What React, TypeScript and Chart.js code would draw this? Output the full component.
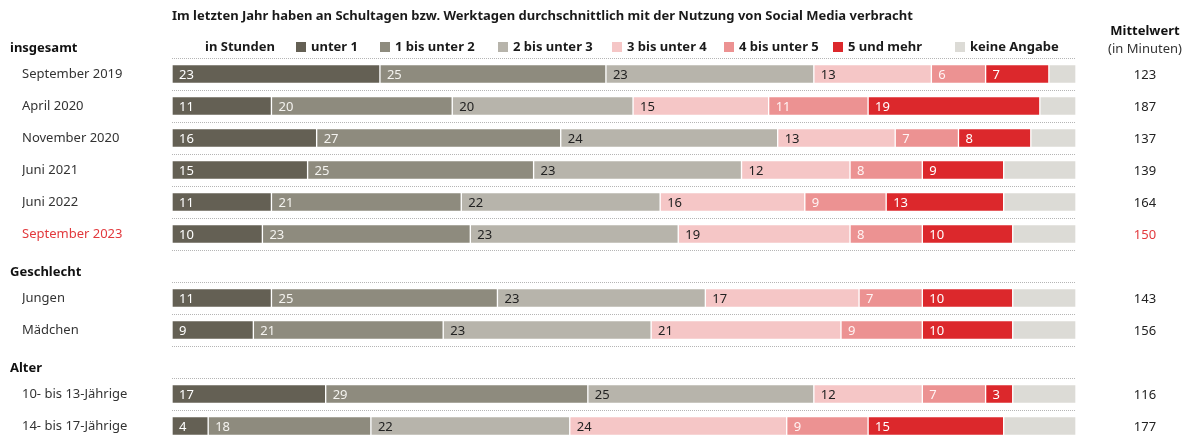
import React, { useEffect, useRef } from 'react';
import { Chart, registerables } from 'chart.js';

Chart.register(...registerables);

const titleText = 'Im letzten Jahr haben an Schultagen bzw. Werktagen durchschnittlich mit der Nutzung von Social Media verbracht';
const legendTitle = 'in Stunden';
const rowLabels = ['September 2019', 'April 2020', 'November 2020', 'Juni 2021', 'Juni 2022', 'September 2023', '', 'Jungen', 'Mädchen', '', '10- bis 13-Jährige', '14- bis 17-Jährige'];
const groupHeaders = ['insgesamt', 'Geschlecht', 'Alter'];
const groupHeaderSlots = [-1, 6, 9];
const highlightRow = 5;
const seriesNames = ['unter 1', '1 bis unter 2', '2 bis unter 3', '3 bis unter 4', '4 bis unter 5', '5 und mehr', 'keine Angabe'];
const unter1 = [23, 11, 16, 15, 11, 10, null, 11, 9, null, 17, 4];
const bis2 = [25, 20, 27, 25, 21, 23, null, 25, 21, null, 29, 18];
const bis3 = [23, 20, 24, 23, 22, 23, null, 23, 23, null, 25, 22];
const bis4 = [13, 15, 13, 12, 16, 19, null, 17, 21, null, 12, 24];
const bis5 = [6, 11, 7, 8, 9, 8, null, 7, 9, null, 7, 9];
const undMehr = [7, 19, 8, 9, 13, 10, null, 10, 10, null, 3, 15];
const keineAngabe = [3, 4, 5, 8, 8, 7, null, 7, 7, null, 7, 8];
const mittelwert = [123, 187, 137, 139, 164, 150, null, 143, 156, null, 116, 177];
const mittelwertTitle = 'Mittelwert';
const mittelwertSub = '(in Minuten)';

const seriesValues = [unter1, bis2, bis3, bis4, bis5, undMehr, keineAngabe];
const seriesColors = ['#646054', '#8e8b7e', '#b7b4ab', '#f5c6c6', '#ec9292', '#dc282c', '#dcdbd6'];
const labelColors = ['#ffffff', '#f4f3ef', '#222222', '#222222', '#fff4f4', '#ffffff', null];
const legendSquareX = [296, 380, 498, 612, 724, 833, 955];

const FONT = '"Noto Sans", sans-serif';
const RED = '#e2393d';

const decorPlugin = {
  id: 'decor',
  afterDraw(chart: any) {
    const ctx = chart.ctx as CanvasRenderingContext2D;
    const y = chart.scales.y;
    ctx.save();
    // title
    ctx.fillStyle = '#1a1a1a';
    ctx.font = `bold 13px ${FONT}`;
    ctx.textBaseline = 'middle';
    ctx.textAlign = 'left';
    ctx.fillText(titleText, 172, 16);
    // legend
    ctx.fillText(legendTitle, 205, 47);
    seriesNames.forEach((n, i) => {
      const sx = legendSquareX[i];
      ctx.fillStyle = seriesColors[i];
      ctx.fillRect(sx, 42, 10, 10);
      ctx.fillStyle = '#1a1a1a';
      ctx.fillText(n, sx + 15, 47);
    });
    // group headers
    groupHeaders.forEach((h, i) => {
      ctx.fillStyle = '#111111';
      ctx.font = `bold 13px ${FONT}`;
      ctx.textAlign = 'left';
      ctx.fillText(h, 10, y.getPixelForValue(groupHeaderSlots[i]) + 6);
    });
    // Mittelwert header
    ctx.textAlign = 'center';
    ctx.font = `bold 13px ${FONT}`;
    ctx.fillStyle = '#111111';
    ctx.fillText(mittelwertTitle, 1145, 31);
    ctx.font = `13px ${FONT}`;
    ctx.fillStyle = '#333333';
    ctx.fillText(mittelwertSub, 1145, 49);
    mittelwert.forEach((v, i) => {
      if (v === null) return;
      ctx.fillStyle = i === highlightRow ? RED : '#222222';
      ctx.fillText(String(v), 1145, y.getPixelForValue(i) + 1);
    });
    // bar value labels
    ctx.textAlign = 'left';
    ctx.font = `13px ${FONT}`;
    chart.data.datasets.forEach((ds: any, di: number) => {
      const col = labelColors[di];
      if (!col) return;
      const meta = chart.getDatasetMeta(di);
      meta.data.forEach((el: any, i: number) => {
        const v = ds.data[i];
        if (v === null || v === undefined) return;
        const start = Math.min(el.base, el.x);
        ctx.fillStyle = col;
        ctx.fillText(String(v), start + 7, el.y + 1);
      });
    });
    ctx.restore();
  },
};

export default function App() {
  const ref = useRef<HTMLCanvasElement | null>(null);
  useEffect(() => {
    if (!ref.current) return;
    const chart = new Chart(ref.current, {
      type: 'bar',
      data: {
        labels: rowLabels,
        datasets: seriesNames.map((n, i) => ({
          label: n,
          data: seriesValues[i] as any,
          backgroundColor: seriesColors[i],
          borderColor: 'rgba(255,255,255,0.35)',
          borderWidth: 1,
          borderSkipped: false,
          barThickness: 19,
        })),
      },
      options: {
        indexAxis: 'y',
        responsive: false,
        animation: false,
        events: [],
        layout: { padding: { left: 22, right: 113, top: 58, bottom: 10 } },
        plugins: { legend: { display: false }, tooltip: { enabled: false }, title: { display: false } },
        scales: {
          x: { stacked: true, min: 0, max: 100, display: false },
          y: {
            stacked: true,
            afterFit: (s: any) => { s.width = 150; },
            border: { display: false, dash: [1, 1] },
            grid: { display: true, drawTicks: false, color: '#b5b5b5', lineWidth: 1, offset: true },
            ticks: {
              crossAlign: 'far',
              padding: 0,
              font: { family: FONT, size: 13 },
              color: (c: any) => (c.index === highlightRow ? RED : '#333333'),
            },
          },
        },
      },
      plugins: [decorPlugin],
    });
    return () => chart.destroy();
  }, []);
  return (
    <div style={{ position: 'absolute', left: 0, top: 0, width: 1189, height: 439, overflow: 'hidden', background: '#fff' }}>
      <canvas ref={ref} width={1189} height={452} style={{ display: 'block' }} />
    </div>
  );
}
